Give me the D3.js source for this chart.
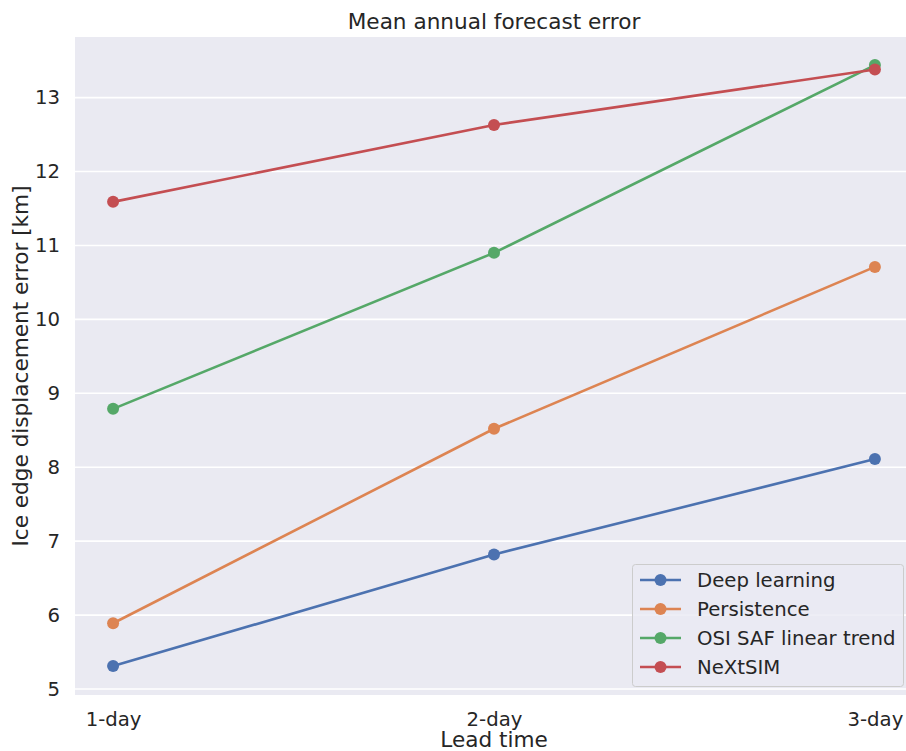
<!DOCTYPE html>
<html>
<head>
<meta charset="utf-8">
<script src="https://cdn.jsdelivr.net/npm/d3@7"></script>
<style>
  html, body { margin: 0; padding: 0; background: #ffffff; }
  svg { display: block; font-family: "DejaVu Sans", sans-serif; }
</style>
</head>
<body>
<svg id="chart" width="906" height="751"></svg>
<script>
// Lead times on the x axis
const leadTimes = ["1-day", "2-day", "3-day"];

// Mean annual ice edge displacement error [km] for each forecast system
const deepLearning = [5.31, 6.82, 8.11];
const persistence = [5.89, 8.52, 10.71];
const osiSafTrend = [8.79, 10.90, 13.44];
const nextsim = [11.59, 12.63, 13.38];

const seriesNames = ["Deep learning", "Persistence", "OSI SAF linear trend", "NeXtSIM"];
const seriesValues = [deepLearning, persistence, osiSafTrend, nextsim];
const seriesColors = ["#4c72b0", "#dd8452", "#55a868", "#c44e52"];

const yTicks = [5, 6, 7, 8, 9, 10, 11, 12, 13];

const svg = d3.select("#chart");
const plot = { left: 75, right: 913, top: 37, bottom: 695 };

const x = d3.scaleLinear().domain([-0.1, 2.1]).range([plot.left, plot.right]);
const y = d3.scaleLinear().domain([4.919, 13.82]).range([plot.bottom, plot.top]);

// Plot background
svg.append("rect")
  .attr("x", plot.left).attr("y", plot.top)
  .attr("width", plot.right - plot.left).attr("height", plot.bottom - plot.top)
  .attr("fill", "#eaeaf2");

// Horizontal grid lines
svg.append("g")
  .selectAll("line")
  .data(yTicks)
  .join("line")
  .attr("x1", plot.left).attr("x2", plot.right)
  .attr("y1", d => y(d)).attr("y2", d => y(d))
  .attr("stroke", "#ffffff").attr("stroke-width", 1.6);

// Y axis tick labels
const yAxis = d3.axisLeft(y).tickValues(yTicks).tickSize(0).tickPadding(15).tickFormat(d3.format("d"));
svg.append("g")
  .attr("transform", `translate(${plot.left},0)`)
  .call(yAxis)
  .call(g => g.select(".domain").remove())
  .call(g => g.selectAll("text").attr("font-size", 19.7).attr("fill", "#262626").attr("font-family", "DejaVu Sans"));

// X axis tick labels
const xAxis = d3.axisBottom(x).tickValues([0, 1, 2]).tickSize(0).tickPadding(17).tickFormat(i => leadTimes[i]);
svg.append("g")
  .attr("transform", `translate(0,${plot.bottom})`)
  .call(xAxis)
  .call(g => g.select(".domain").remove())
  .call(g => g.selectAll("text").attr("font-size", 19.7).attr("fill", "#262626").attr("font-family", "DejaVu Sans"));

// Series lines and markers
const line = d3.line().x((d, i) => x(i)).y(d => y(d));
seriesValues.forEach((vals, s) => {
  const g = svg.append("g");
  g.append("path")
    .datum(vals)
    .attr("d", line)
    .attr("fill", "none")
    .attr("stroke", seriesColors[s])
    .attr("stroke-width", 2.6)
    .attr("stroke-linecap", "round");
  g.selectAll("circle")
    .data(vals)
    .join("circle")
    .attr("cx", (d, i) => x(i))
    .attr("cy", d => y(d))
    .attr("r", 6)
    .attr("fill", seriesColors[s]);
});

// Title and axis labels
svg.append("text")
  .attr("x", 494).attr("y", 29)
  .attr("text-anchor", "middle")
  .attr("font-size", 21.6).attr("fill", "#262626")
  .text("Mean annual forecast error");

svg.append("text")
  .attr("x", 494).attr("y", 747)
  .attr("text-anchor", "middle")
  .attr("font-size", 21.6).attr("fill", "#262626")
  .text("Lead time");

svg.append("text")
  .attr("transform", `translate(28,${(plot.top + plot.bottom) / 2}) rotate(-90)`)
  .attr("text-anchor", "middle")
  .attr("font-size", 21.6).attr("fill", "#262626")
  .text("Ice edge displacement error [km]");

// Legend
const legend = svg.append("g").attr("transform", "translate(632,564)");
legend.append("rect")
  .attr("x", 0.5).attr("y", 0.5)
  .attr("width", 271).attr("height", 122)
  .attr("rx", 3)
  .attr("fill", "#eaeaf2").attr("fill-opacity", 0.8)
  .attr("stroke", "#cccccc").attr("stroke-width", 1);
const items = legend.selectAll("g.item")
  .data(seriesNames)
  .join("g")
  .attr("class", "item")
  .attr("transform", (d, i) => `translate(0,${16 + i * 29})`);
items.append("line")
  .attr("x1", 8).attr("x2", 49).attr("y1", 0).attr("y2", 0)
  .attr("stroke", (d, i) => seriesColors[i]).attr("stroke-width", 2.6);
items.append("circle")
  .attr("cx", 28.5).attr("cy", 0).attr("r", 6)
  .attr("fill", (d, i) => seriesColors[i]);
items.append("text")
  .attr("x", 65).attr("y", 0).attr("dy", "0.35em")
  .attr("font-size", 19.7).attr("fill", "#262626")
  .text(d => d);
</script>
</body>
</html>
